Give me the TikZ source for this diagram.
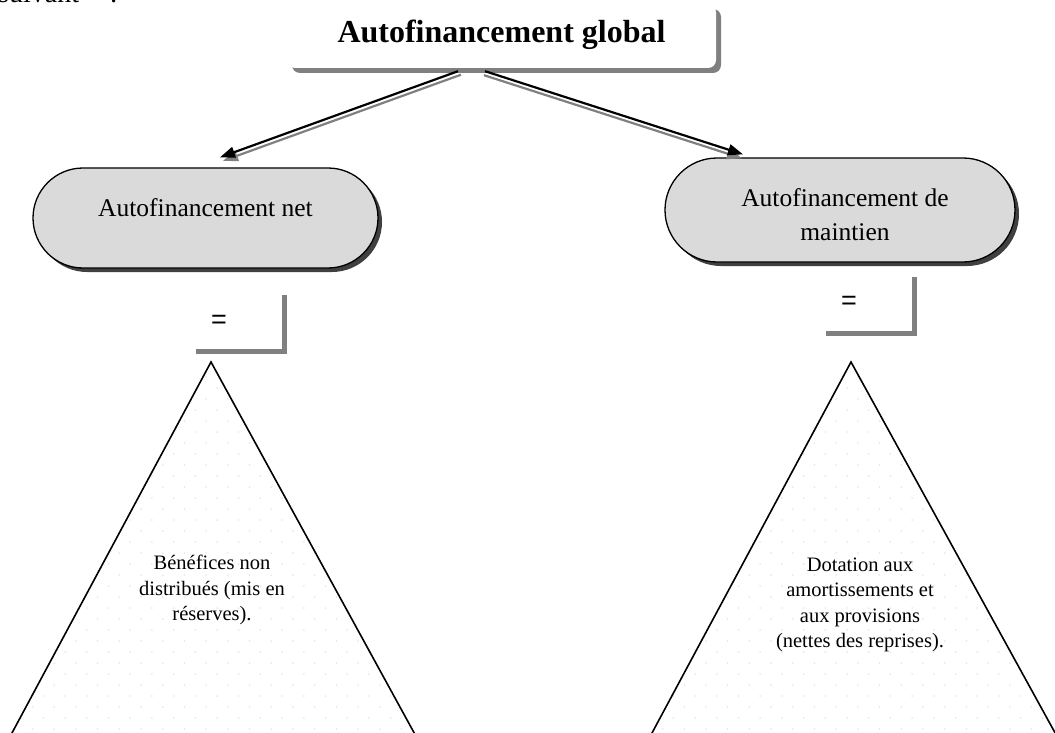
\documentclass[tikz,border=0pt]{standalone}
\usepackage{fontspec}
\setmainfont{Liberation Serif}
\newfontfamily\eqfont{Liberation Sans}
\usetikzlibrary{arrows.meta,calc,shapes.misc,shadows}

\definecolor{capfill}{HTML}{DADADA}
\definecolor{barcol}{HTML}{808080}
\definecolor{dotcol}{HTML}{E8E8E8}

\begin{document}
\begin{tikzpicture}[x=1pt,y=-1pt,
  titlebox/.style={rectangle, rounded corners=8pt, fill=white, inner sep=0pt,
    minimum width=429pt, minimum height=64pt,
    drop shadow={shadow xshift=5pt, shadow yshift=-5pt, fill=barcol, opacity=1}},
  capsule/.style={rounded rectangle, draw=black, line width=1.3pt, fill=capfill,
    inner sep=0pt,
    drop shadow={shadow xshift=4pt, shadow yshift=-4pt, fill=black!75, opacity=1}},
  captext/.style={inner sep=0pt, align=center, font=\fontsize{25.5}{34}\selectfont},
  tritext/.style={inner sep=0pt, align=center, font=\fontsize{20.5}{25.3}\selectfont},
  eqsign/.style={inner sep=0pt, font=\eqfont\fontsize{27}{30}\selectfont},
  arrowline/.style={line width=2.2pt, -{Triangle[length=15pt,width=11pt]}},
  arrowshade/.style={arrowline, draw=barcol, fill=barcol},
  bracket/.style={draw=barcol, line width=5pt},
  triline/.style={draw=black, line width=1.6pt}]

\useasboundingbox (0,0) rectangle (1055,733);
\clip (0,0) rectangle (1055,733);

% running text above the diagram
\node[anchor=base west, inner sep=0pt, font=\fontsize{28}{32}\selectfont] (lead) at (-2,2.5) {suivant\hspace{1.1em}:};

% title box
\node[titlebox] (glob) at (501.5,36) {};
\node[anchor=base, inner sep=0pt, font=\fontsize{32}{38}\selectfont\bfseries] (globtxt) at (501.5,43) {Autofinancement global};

% the two capsules
\node[capsule, minimum width=345pt, minimum height=100pt] (net) at (205.5,218) {};
\node[captext] (nettxt) at (205.5,208) {Autofinancement net};
\node[capsule, minimum width=350pt, minimum height=104pt] (maint) at (840,210) {};
\node[captext] (mainttxt) at (845,215) {Autofinancement de\\maintien};

% arrows from the title box
\coordinate (sl) at ($(glob.south)+(-43.5,3)$);
\coordinate (sr) at ($(glob.south)+(-16.5,3)$);
\coordinate (el) at ($(net.north)+(14.5,-10)$);
\coordinate (er) at ($(maint.north)+(-97,-3)$);
\draw[arrowshade] ($(sl)+(3,3.5)$) -- ($(el)+(3,3.5)$);
\draw[arrowline] (sl) -- (el);
\draw[arrowshade] ($(sr)+(-1,4)$) -- ($(er)+(-1,4)$);
\draw[arrowline] (sr) -- (er);

% equal signs with their brackets
\node[eqsign] (eql) at (219,322) {=};
\draw[bracket] (196,351) -- (284.5,351) -- (284.5,295);
\node[eqsign] (eqr) at (849,303) {=};
\draw[bracket] (826,333) -- (914.5,333) -- (914.5,277);

% left triangle with dotted background
\coordinate (lt) at (211,362);
\coordinate (lbl) at (-2.5,760);
\coordinate (lbr) at (429,760);
\begin{scope}
  \clip (lt) -- (lbl) -- (lbr) -- cycle;
  \foreach \j in {0,...,36} {
    \foreach \i in {0,...,20} {
      \fill[dotcol] ({\i*21.7+mod(\j,2)*10.85}, {366+\j*11}) circle (1);
    }
  }
\end{scope}
\draw[triline] (lbl) -- (lt) -- (lbr);
\node[tritext] (benef) at (212,590) {Bénéfices non\\distribués (mis en\\réserves).};

% right triangle with dotted background
\coordinate (rt) at (851,362);
\coordinate (rbl) at (637.5,760);
\coordinate (rbr) at (1070,760);
\begin{scope}
  \clip (rt) -- (rbl) -- (rbr) -- cycle;
  \foreach \j in {0,...,36} {
    \foreach \i in {0,...,21} {
      \fill[dotcol] ({630+\i*21.7+mod(\j,2)*10.85}, {366+\j*11}) circle (1);
    }
  }
\end{scope}
\draw[triline] (rbl) -- (rt) -- (rbr);
\node[tritext] (dotat) at (860,605) {Dotation aux\\amortissements et\\aux provisions\\(nettes des reprises).};

\end{tikzpicture}
\end{document}
